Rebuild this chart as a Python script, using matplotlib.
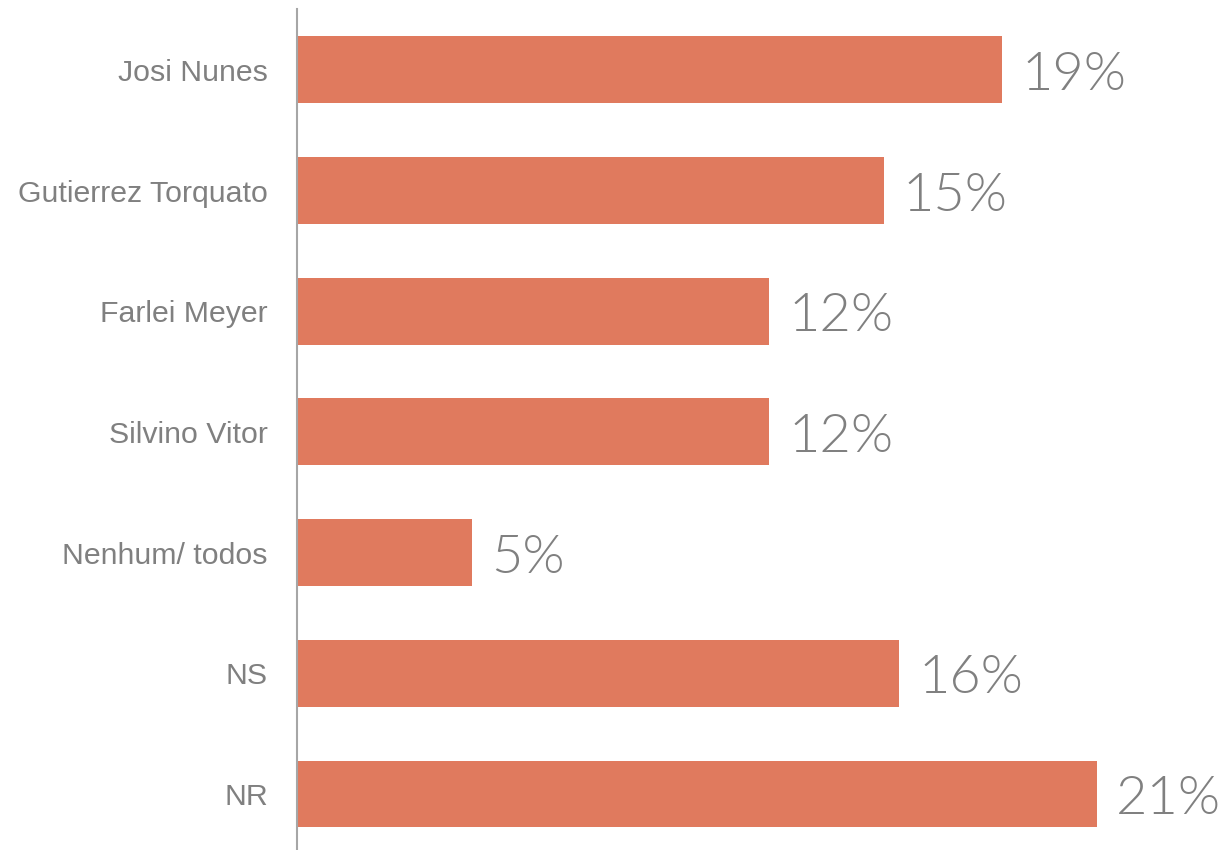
import matplotlib
matplotlib.use('Agg')
import matplotlib.pyplot as plt

# data
categories = ['Josi Nunes', 'Gutierrez Torquato', 'Farlei Meyer', 'Silvino Vitor',
              'Nenhum/ todos', 'NS', 'NR']
values = [18.5, 15.4, 12.4, 12.4, 4.6, 15.8, 21.0]
value_labels = ['19%', '15%', '12%', '12%', '5%', '16%', '21%']

bar_color = '#E07A5E'
text_gray = '#808080'

fig = plt.figure(figsize=(12.29, 8.5), dpi=100)
ax = fig.add_axes([297 / 1229, 0.0, 1 - 297 / 1229, 1 - 9 / 850])

ypos = list(range(len(categories)))
ax.barh(ypos, values, height=0.555, color=bar_color, left=0)

for y, v, lab in zip(ypos, values, value_labels):
    ax.text(v + 0.5, y + 0.166, lab, va='baseline', ha='left', fontsize=39,
            color=text_gray, family='Lato', fontweight=300)

ax.set_yticks(ypos)
ax.set_yticklabels(categories, fontsize=21.8, color=text_gray, family='Liberation Sans')
ax.tick_params(axis='y', length=0, pad=21)
ax.set_xticks([])
ax.set_xlim(0, 24.46)
ax.set_ylim(6.464, -0.505)

for side in ['top', 'right', 'bottom']:
    ax.spines[side].set_visible(False)
ax.spines['left'].set_color('#A6A6A6')
ax.spines['left'].set_linewidth(1.5)

fig.savefig('out.png', dpi=100)
